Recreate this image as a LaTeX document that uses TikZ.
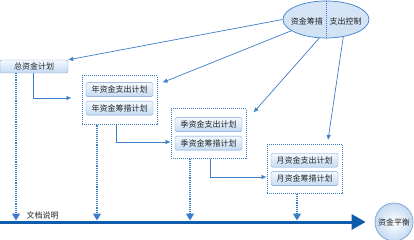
\documentclass[tikz,border=0pt]{standalone}
\usepackage{fontspec}
\setmainfont{Noto Sans CJK SC}
\usepackage{tikz}
\usetikzlibrary{arrows.meta,positioning,calc,shapes.geometric}

\definecolor{lineblue}{RGB}{60,125,200}
\definecolor{darkblue}{RGB}{16,92,172}
\definecolor{boxedge}{RGB}{120,160,212}
\definecolor{boxtop}{RGB}{244,249,254}
\definecolor{boxbot}{RGB}{196,218,242}
\definecolor{txt}{RGB}{35,35,35}

\begin{document}
\begin{tikzpicture}[
      x=1pt, y=-1pt,
      >={Latex[length=5pt,width=4.5pt]},
      font=\fontsize{8}{9}\selectfont,
      every node/.style={text=txt},
      plan/.style={draw=boxedge, rounded corners=1.5pt, top color=boxtop, bottom color=boxbot, minimum width=67pt, minimum height=14pt, inner sep=0pt},
      group/.style={draw=lineblue, densely dotted, line width=1pt, minimum width=75pt, minimum height=49pt, inner sep=0pt},
      flow/.style={->, draw=lineblue, line width=0.7pt},
      doc/.style={-{Triangle[length=7pt,width=8pt]}, draw=lineblue, densely dotted, line width=1.1pt}
    ]
    \useasboundingbox (0,0) rectangle (414,240);

    % control ellipse
    \node[ellipse, draw=lineblue, line width=0.7pt, top color=boxbot!70, middle color=white, bottom color=boxbot!80, minimum width=86pt, minimum height=37pt] (ctrl) at (326,19.5) {};
    \draw[lineblue, densely dotted, line width=1pt] (ctrl.north) -- (ctrl.south);
    \node[left=3pt of ctrl.center, yshift=-1.5pt, inner sep=0pt] (raise) {资金筹措};
    \node[right=3.5pt of ctrl.center, yshift=-1.5pt, inner sep=0pt] (spend) {支出控制};

    % plans
    \node[plan, minimum width=68pt, minimum height=13pt] (total) at (34,66.5) {总资金计划};

    \node[group] (grp1) at (119.5,100.5) {};
    \node[plan, below=7pt of grp1.north] (yout) {年资金支出计划};
    \node[plan, below=4pt of yout] (yin) {年资金筹措计划};

    \node[group] (grp2) at (208.5,133.5) {};
    \node[plan, below=9pt of grp2.north] (qout) {季资金支出计划};
    \node[plan, below=4pt of qout] (qin) {季资金筹措计划};

    \node[group] (grp3) at (304.5,169) {};
    \node[plan, below=9pt of grp3.north] (mout) {月资金支出计划};
    \node[plan, below=4pt of mout] (min) {月资金筹措计划};

    \node[circle, draw=boxedge, line width=0.7pt, inner color=white, outer color=boxbot, minimum size=38pt, inner sep=0pt] (bal) at (394,222) {资金平衡};

    % control arrows
    \draw[flow] (ctrl.west) -- (total.north east);
    \draw[flow] (ctrl.198) -- ([shift={(5pt,-7pt)}]grp1.north east);
    \draw[flow] (ctrl.250) -- ([shift={(7pt,-4pt)}]grp2.north east);
    \draw[flow] (ctrl.-45) -- ([shift={(23.5pt,4pt)}]grp3.north);

    \draw[flow, shorten >=10pt] ([xshift=-1pt]total.south) |- ([yshift=2.5pt]grp1.west);
    \draw[flow] ([xshift=-3.5pt]grp1.south) |- ([yshift=-8.5pt]grp2.west);
    \draw[flow] ([xshift=1.5pt]grp2.south) |- ([yshift=-8pt]grp3.west);

    % time line
    \coordinate (tl0) at (0,222);
    \draw[darkblue, line width=3pt, -{Triangle[length=14pt,width=15pt]}] (tl0) -- ([xshift=-9pt]bal.west);
    \node[anchor=south west, inner sep=0.5pt] (docs) at (26,219.5) {文档说明};

    \coordinate (d1) at ([xshift=-18pt]total.south);
    \coordinate (d2) at ([xshift=-22.5pt]grp1.south);
    \coordinate (d3) at ([xshift=-18.5pt]grp2.south);
    \coordinate (d4) at ([xshift=-7.5pt]grp3.south);
    \draw[doc, shorten >=1.5pt] (d1) -- (d1 |- tl0);
    \draw[doc, shorten >=1.5pt] (d2) -- (d2 |- tl0);
    \draw[doc, shorten >=1.5pt] (d3) -- (d3 |- tl0);
    \draw[doc, shorten >=1.5pt] (d4) -- (d4 |- tl0);
  \end{tikzpicture}
\end{document}
